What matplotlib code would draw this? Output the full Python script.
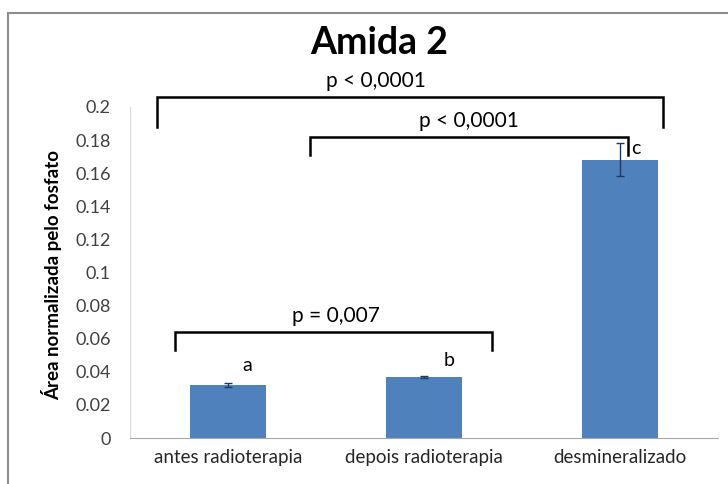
import matplotlib.pyplot as plt
from matplotlib.patches import Rectangle

# dados do grafico
categorias = ['antes radioterapia', 'depois radioterapia', 'desmineralizado']
valores = [0.032, 0.037, 0.168]
erros = [0.001, 0.0005, 0.010]
letras = ['a', 'b', 'c']

# comparacoes: (x inicio, x fim, altura do colchete, texto, x do texto)
comparacoes = [(-0.36, 2.22, 0.206, 'p < 0,0001', 0.755),
               (0.42, 2.04, 0.182, 'p < 0,0001', 1.23),
               (-0.27, 1.35, 0.064, 'p = 0,007', 0.55)]

plt.rcParams['font.family'] = ['Lato', 'DejaVu Sans']

fig = plt.figure(figsize=(7.28, 4.84), dpi=100)
ax = fig.add_axes([0.1786, 0.095, 0.8074, 0.684])

x = range(len(categorias))
ax.bar(x, valores, width=0.39, color='#4F81BD', zorder=2)
ax.errorbar(x, valores, yerr=erros, fmt='none', ecolor='#1F3A60',
            elinewidth=1, capsize=3, capthick=1, zorder=3)

ax.set_xlim(-0.5, 2.5)
ax.set_ylim(0, 0.2)
ax.set_yticks([0, 0.02, 0.04, 0.06, 0.08, 0.1, 0.12, 0.14, 0.16, 0.18, 0.2])
ax.set_yticklabels(['0', '0.02', '0.04', '0.06', '0.08', '0.1', '0.12',
                    '0.14', '0.16', '0.18', '0.2'])
ax.set_xticks(list(x))
ax.set_xticklabels(categorias, fontsize=13.5)
ax.tick_params(axis='y', labelsize=13, length=0, pad=14, colors='#404040')
ax.tick_params(axis='x', length=0, pad=8, colors='#262626')

for s in ['top', 'right']:
    ax.spines[s].set_visible(False)
ax.spines['left'].set_color('#d9d9d9')
ax.spines['bottom'].set_color('#a6a6a6')

fig.text(52 / 728, 1 - 275 / 484, 'Área normalizada pelo fosfato',
         fontsize=13.5, fontweight='bold', rotation=90,
         ha='center', va='center')

# letras acima das barras
pos_letras = [(0.10, 0.044), (1.13, 0.047), (2.08, 0.175)]
for (lx, ly), l in zip(pos_letras, letras):
    ax.text(lx, ly, l, fontsize=14, ha='center', va='center')

# colchetes com os valores de p
for x0, x1, y, txt, tx in comparacoes:
    perna = 0.018 if y > 0.2 else 0.011
    ax.plot([x0, x0, x1, x1], [y - perna, y, y, y - perna], color='black',
            lw=1.8, clip_on=False, solid_joinstyle='miter', zorder=4)
    ax.text(tx, y + 0.0095, txt, fontsize=15, ha='center', va='center')

fig.text(0.521, 0.911, 'Amida 2', fontsize=27, fontweight='bold',
         ha='center', va='center')

# moldura da area do grafico
fig.patches.append(Rectangle((8 / 728, -0.1), 1.2, 1.1 - 13 / 484,
                             transform=fig.transFigure, fill=False,
                             edgecolor='#8c8c8c', lw=1.5))

fig.savefig('out.png', dpi=100)
